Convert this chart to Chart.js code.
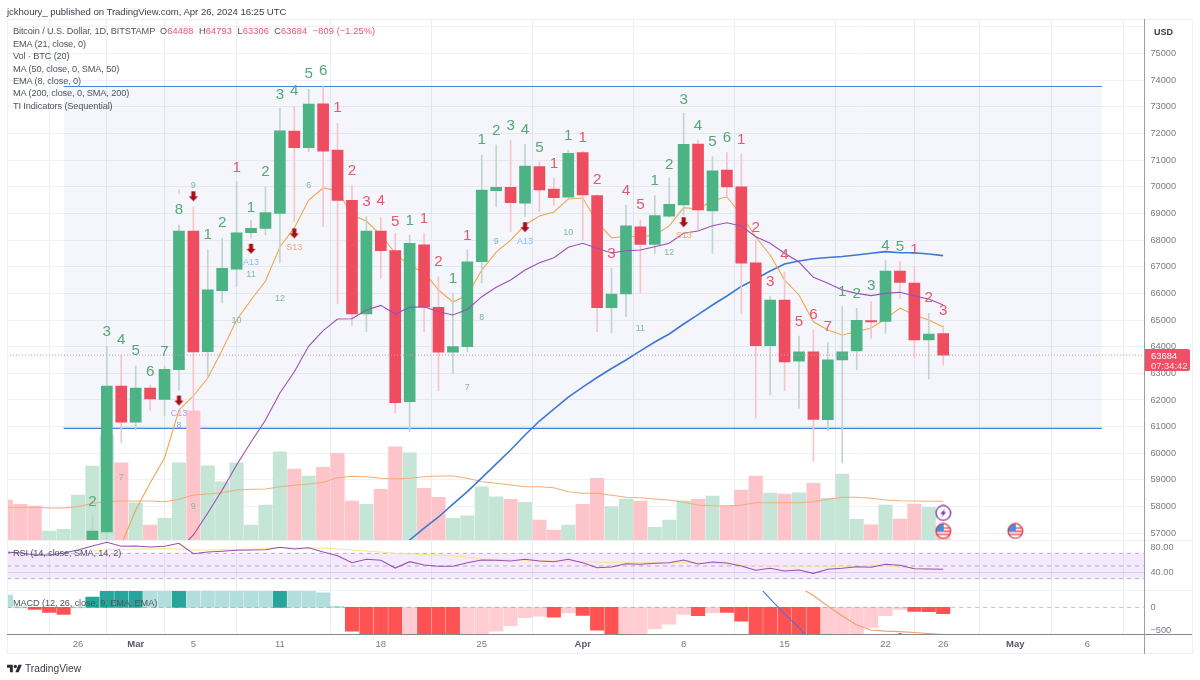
<!DOCTYPE html>
<html>
<head>
<meta charset="utf-8">
<title>BTCUSD</title>
<script src="https://cdn.jsdelivr.net/npm/chart.js@4"></script>
<style>
html,body{margin:0;padding:0;background:#fff;width:1200px;height:680px;overflow:hidden;font-family:"Liberation Sans",sans-serif;}
#c{position:absolute;left:0;top:0;}
.t{position:absolute;white-space:nowrap;color:#4f535d;font-size:9.2px;line-height:12px;letter-spacing:-0.12px;}
.r{color:#e5566b;}
.o{letter-spacing:0.14px;}
.ln{position:absolute;background:#f0f1f4;}
</style>
</head>
<body>
<canvas id="c" width="1200" height="680"></canvas>
<div class="ln" style="left:7px;top:19px;width:1185px;height:1px"></div>
<div class="ln" style="left:7px;top:653px;width:1185px;height:1px"></div>
<div class="ln" style="left:7px;top:19px;width:1px;height:635px"></div>
<div class="ln" style="left:1192px;top:19px;width:1px;height:635px"></div>
<div class="ln" style="left:7px;top:540px;width:1185px;height:1px"></div>
<div class="ln" style="left:7px;top:590px;width:1185px;height:1px"></div>
<div class="ln" style="left:7px;top:634px;width:1185px;height:1px;background:#85888f"></div>
<div class="ln" style="left:1144px;top:19px;width:1px;height:635px;background:#9c9ea3"></div>
<div class="t" style="left:7px;top:5.5px;font-size:9.6px;letter-spacing:-0.05px;color:#3a3e48;">jckhoury_ published on TradingView.com, Apr 26, 2024 16:25 UTC</div>
<div class="t" style="left:13px;top:25px;">Bitcoin / U.S. Dollar, 1D, BITSTAMP&nbsp;&nbsp;<span class="o">O<span class="r">64488</span>&nbsp;&nbsp;H<span class="r">64793</span>&nbsp;&nbsp;L<span class="r">63306</span>&nbsp;&nbsp;C<span class="r">63684</span>&nbsp;&nbsp;<span class="r">−809 (−1.25%)</span></span></div>
<div class="t" style="left:13px;top:37.5px;">EMA (21, close, 0)</div>
<div class="t" style="left:13px;top:50px;">Vol · BTC (20)</div>
<div class="t" style="left:13px;top:62.5px;">MA (50, close, 0, SMA, 50)</div>
<div class="t" style="left:13px;top:75px;">EMA (8, close, 0)</div>
<div class="t" style="left:13px;top:87px;">MA (200, close, 0, SMA, 200)</div>
<div class="t" style="left:13px;top:99.5px;">TI Indicators (Sequential)</div>
<div class="t" style="left:13px;top:547px;">RSI (14, close, SMA, 14, 2)</div>
<div class="t" style="left:13px;top:597px;">MACD (12, 26, close, 9, EMA, EMA)</div>
<div class="t" style="left:1154px;top:26px;font-weight:700;font-size:9px;letter-spacing:0;color:#3a3e48;">USD</div>
<div style="position:absolute;left:1145px;top:349px;width:45px;height:22px;background:#ef5067;border-radius:0 2px 2px 0;"></div>
<div class="t" style="left:1151px;top:349.5px;color:#fff;font-size:9.4px;letter-spacing:0;">63684</div>
<div class="t" style="left:1151px;top:359.5px;color:#fde3e6;font-size:9.4px;letter-spacing:0;">07:34:42</div>
<svg style="position:absolute;left:7px;top:662.5px" width="15" height="12" viewBox="0 0 36 28"><path d="M14 22H7V11H0V4h14v18zM28 22h-8l7.5-18h8L28 22z" fill="#2a2e39"/><circle cx="20" cy="8" r="4" fill="#2a2e39"/></svg>
<div class="t" style="left:25px;top:661.5px;font-size:10.2px;line-height:14px;letter-spacing:0;color:#3a3e48;">TradingView</div>

<script>
// x positions are day numbers: 0 = Feb 21, 2024
const tickDays   = [5,9,13,19,26,33,40,47,54,61,65,70,75];
const tickLabels = ['26','Mar','5','11','18','25','Apr','8','15','22','26','May','6'];
const monthTicks = ['Mar','Apr','May'];
const priceTicks = [57000,58000,59000,60000,61000,62000,63000,64000,65000,66000,67000,68000,69000,70000,71000,72000,73000,74000,75000,76000];
const rsiTicks   = [80,40];
const macdTicks  = [0,-500];

const firstCandleDay = 6;
const opens  = [54500,57050,62520,61170,62450,62025,63135,68340,63810,66100,66910,68280,68440,69000,72090,71465,73115,71380,69490,65225,68340,67610,61935,67825,65480,63790,64000,67190,69850,69980,69380,70755,69915,69605,71280,69665,65460,65975,68500,67840,68900,69315,71605,69090,70630,70000,67150,64040,65750,63460,63810,61265,63500,63840,64975,64950,66840,66390,64250,64488];
const highs  = [57650,64000,63690,63275,62560,63275,68565,69240,67630,68075,70190,68750,69990,72955,73005,73660,73755,72380,70065,68880,68865,68265,68190,68265,66625,66010,67630,71190,71570,71755,71590,70940,70330,71380,71340,69700,66950,69315,68750,69665,70330,72755,71755,71130,71280,71230,68000,65880,66800,64400,64630,64150,65500,65440,65690,67250,67190,67000,65250,64793];
const lows   = [54400,56700,60385,60875,61620,61400,62375,59000,62870,65640,66250,68080,68190,67140,68700,71315,68500,65600,64775,64560,66575,61510,60810,64560,62350,63010,63810,66390,69250,68315,68880,69065,69300,69590,68000,64560,64520,65125,66010,67500,68850,68940,68380,67500,69625,65225,61315,62190,62350,61690,59685,60850,59635,63125,64315,64500,65815,63565,62790,63306];
const closes = [57085,62520,61165,62450,62040,63150,68340,63800,66130,66940,68275,68440,69030,72100,71470,73105,71340,69490,65225,68340,67600,61900,67880,65480,63790,64000,67180,69880,69980,69400,70780,69880,69590,71255,69690,65460,65975,68530,67840,68915,69340,71590,69130,70600,69990,67130,64040,65750,63430,63810,61275,63510,63810,64990,64925,66840,66415,64250,64475,63684];

const firstVolUp = [0,0,0,1,1,1];
const volumes = [1600,1430,1360,360,430,1800,2960,4200,3090,1490,600,870,3090,5170,2970,2330,3090,600,1400,3530,2840,2560,2910,3470,1560,1430,2030,3730,3490,2070,1710,870,970,2130,1730,1630,1510,800,400,600,1430,2470,1330,1640,1560,510,800,1570,1630,1760,1370,2000,2560,1880,1840,1890,2270,1670,2640,830,610,1400,840,1440,1310,320];
const volMA = [1308,1308,1308,1280,1280,1332,1468,1532,1560,1560,1560,1532,1628,1800,1840,1892,2000,2028,2040,2132,2188,2240,2308,2492,2548,2532,2468,2440,2468,2532,2560,2560,2468,2332,2268,2200,2132,2132,2092,1932,1868,1868,1788,1708,1692,1640,1600,1508,1400,1372,1360,1400,1492,1492,1492,1492,1532,1628,1708,1708,1668,1600,1572,1560,1548,1548];

const emaFirstDay = 8;
const emaOrange = [56560,57870,58885,59825,61625,62150,62825,63875,65000,65750,66465,67740,68455,69500,69955,69860,68940,68715,68190,67515,67025,66800,66125,65675,65940,66875,67550,68000,68565,68900,69055,69540,69580,68680,68080,68155,68125,68190,68530,69215,69165,69475,69625,68940,68115,67440,66500,65940,64935,64625,64440,64560,64700,65040,65450,65190,65000,64740];
const maPurpleFirstDay = 12;
const maPurple = [56370,56935,57760,58620,59560,60425,61250,62260,63060,64025,64600,65040,65050,65375,65550,65225,65475,65500,65310,65190,65395,65875,66230,66500,66875,67150,67340,67730,67880,67690,67515,67600,67630,67750,67880,68255,68340,68540,68650,68530,68125,67880,67505,67175,66600,66380,66125,66000,65915,66000,66040,65900,65790,65565];
const maBlueFirstDay = 27;
const maBlue = [56295,56745,57195,57610,58095,58565,59075,59600,60125,60685,61210,61660,62110,62485,62845,63180,63500,63840,64175,64475,64850,65205,65565,65900,66260,66540,66840,67100,67215,67300,67345,67385,67440,67505,67565,67525,67525,67475,67415];

const rsi = [72.1,70.5,67.4,67.4,70.5,75.3,81.6,87.4,81.1,81.6,80,81.1,85.8,69.4,72.1,73.2,74.8,75.3,75.7,79.5,76.8,78.9,72.1,66.3,55.2,60.6,59,46.8,56.8,51.6,49.5,49.5,55.2,59.5,59,57.9,60.6,57.9,56.8,60.6,55.2,47.3,48.4,53.6,52.7,54.3,55.2,59.5,53.1,56.3,54.7,50,43.2,46.4,42.1,43.7,38.4,44.8,46.4,48.9,47.9,52.7,51.1,45.7,45.2,44.8];
const rsiMAFirstDay = 6;
const rsiMA = [73.7,76,76.4,76.8,76.8,77.6,76.8,75.3,75.3,75.7,76,76.4,77.6,79.2,78.4,78.4,78.4,76.8,75.3,73.7,72.1,69.7,68.9,68.2,67.4,65.8,64.2,61,60.3,59.5,59,58.4,57.9,57.4,56.8,56.3,55.2,55.2,55.2,55.2,55.2,55.2,54.7,54.3,53.1,51.6,51.1,50.5,50,50,50,50,48.9,48.9,51.6,50.5,48.4,46.4,44.8];
const rsiBandTop = 70, rsiMid = 50, rsiBandBottom = 30;

const macdHist = [260,0,-43,-106,-149,0,220,700,750,800,780,760,820,800,770,740,700,650,620,680,600,500,312,5,-504,-620,-760,-900,-800,-900,-1000,-1100,-950,-750,-504,-390,-220,-185,-206,-113,-170,-483,-640,-580,-553,-454,-355,-149,-177,-113,-106,-291,-700,-850,-1000,-1100,-1050,-950,-850,-750,-426,-177,-43,-85,-92,-135];
const macdStrong = [0,0,1,1,1,0,1,1,1,1,0,0,1,0,0,0,0,0,0,1,0,0,0,0,1,1,1,1,0,1,1,1,0,0,0,0,0,0,1,0,1,1,1,0,0,0,0,0,1,0,1,1,1,1,1,1,1,0,0,0,0,0,0,1,1,1];
const macdLineFirstDay = 52;
const macdLine = [519,179,-140,-428,-800,-1000,-1200,-1100,-900,-700,-555,-650,-700,-760];
const macdSignalFirstDay = 55;
const macdSignal = [434,253,30,-183,-374,-481,-506,-517,-534,-555,-577];

const channelDays = [4,76];
const channelTop = 73762, channelBottom = 60937;
const lastPrice = 63684;

const greenCounts = [[6,58170,'2'],[7,64550,'3'],[8,64250,'4'],[9,63840,'5'],[10,63050,'6'],[11,63810,'7'],[12,69130,'8'],[14,68190,'1'],[15,68630,'2'],[17,69215,'1'],[18,70565,'2'],[19,73445,'3'],[20,73605,'4'],[21,74230,'5'],[22,74345,'6'],[28,68725,'1'],[31,66565,'1'],[33,71755,'1'],[34,72105,'2'],[35,72290,'3'],[36,72130,'4'],[37,71480,'5'],[39,71915,'1'],[45,70225,'1'],[46,70815,'2'],[47,73280,'3'],[48,72280,'4'],[49,71690,'5'],[50,71820,'6'],[58,66065,'1'],[59,65975,'2'],[60,66275,'3'],[61,67775,'4'],[62,67750,'5']];
const redCounts = [[16,70715,'1'],[23,72955,'1'],[24,70600,'2'],[25,69440,'3'],[26,69465,'4'],[27,68690,'5'],[29,68790,'1'],[30,67190,'2'],[32,68155,'1'],[38,70880,'1'],[40,71840,'1'],[41,70255,'2'],[42,67475,'3'],[43,69850,'4'],[44,69315,'5'],[51,71780,'1'],[52,68465,'2'],[53,66440,'3'],[54,67465,'4'],[55,64935,'5'],[56,65190,'6'],[57,64750,'7'],[63,67625,'1'],[64,65840,'2'],[65,65340,'3']];
const smallCounts = [[8,59075,'7'],[12,61060,'8'],[13,58020,'9'],[16,64965,'10'],[17,66725,'11'],[19,65825,'12'],[13,70040,'9'],[21,70030,'6'],[32,62475,'7'],[33,65100,'8'],[34,67940,'9'],[39,68275,'10'],[44,64690,'11'],[46,67525,'12']];
const cTags = [[12,61475,'C13']];
const aTags = [[17,67150,'A13'],[36,67940,'A13']];
const sTags = [[20,67730,'S13'],[47,68165,'S13']];
const arrowSignals = [[12,61960],[13,69625],[17,67655],[20,68230],[36,68465],[47,68650]];
const faintSignals = [[12,69815]];
const boltEvents = [[65,57760]];
const flagEvents = [[65,57085],[70,57085]];

// ---- helpers ----
const series = (first, vals) => vals.map((y,i)=>({x:first+i,y}));
const pairs = list => list.map(p=>({x:p[0],y:p[1]}));
const xMin = 0.076, xMax = 78.96;
const span = v => [{x:xMin,y:v},{x:xMax,y:v}];

const candleUp = opens.map((o,i)=>closes[i]>=o);
const bodies = opens.map((o,i)=>({x:firstCandleDay+i,y:[o,closes[i]]}));
const wicks  = lows.map((l,i)=>({x:firstCandleDay+i,y:[l,highs[i]]}));
const volUp  = firstVolUp.concat(candleUp.map(u=>u?1:0));

const GREEN='#4cb385', RED='#ee4c5f', WICK_G='#c3d4cf', WICK_R='#f7c4cb';
const COUNT_G='#57a877', COUNT_R='#e4596d', SMALL='#86b89c';
const isMonth = v => monthTicks.includes(tickLabels[tickDays.indexOf(v)]);

function icon(draw){const c=document.createElement('canvas');c.width=17;c.height=17;draw(c.getContext('2d'));return c;}
const arrowIcon = icon(g=>{g.fillStyle='#a50d17';g.beginPath();g.moveTo(6.5,3);g.lineTo(10.5,3);g.lineTo(10.5,8);g.lineTo(13,8);g.lineTo(8.5,13);g.lineTo(4,8);g.lineTo(6.5,8);g.closePath();g.fill();});
const boltIcon = icon(g=>{g.beginPath();g.arc(8.5,8.5,7.3,0,7);g.fillStyle='#fff';g.fill();g.lineWidth=1.3;g.strokeStyle='#7b2fa8';g.stroke();g.fillStyle='#7b2fa8';g.beginPath();g.moveTo(10.5,3.8);g.lineTo(5.5,9.5);g.lineTo(8.2,9.5);g.lineTo(6.5,13.2);g.lineTo(11.5,7.5);g.lineTo(8.8,7.5);g.closePath();g.fill();});
const flagIcon = icon(g=>{g.save();g.beginPath();g.arc(8.5,8.5,7.3,0,7);g.fillStyle='#fff';g.fill();g.clip();
  g.fillStyle='#e8505f';g.fillRect(1,8,15,1.6);g.fillRect(1,11.2,15,1.4);g.fillRect(1,4.8,15,1.5);
  g.fillStyle='#3f8fe8';g.fillRect(1,1,8,8);g.restore();g.beginPath();g.arc(8.5,8.5,7.3,0,7);g.lineWidth=1.3;g.strokeStyle='#dc3545';g.stroke();});

const priceClip = {left:0,top:0,right:0,bottom:-94};
const volClip   = {left:0,top:0,right:0,bottom:-94};
const rsiClip   = {left:0,top:-522,right:0,bottom:-44};
const macdClip  = {left:0,top:-571.6,right:0,bottom:0};

const labelsPlugin = {
  id:'seqLabels',
  afterLayout(chart){
    // the overlaid indicator axes share the price axis column
    ['yRsi','yMacd'].forEach(id=>{const s=chart.scales[id];s.right=s.left+47.5;});
  },
  afterDatasetsDraw(chart){
    const g=chart.ctx, X=chart.scales.x, Y=chart.scales.yPrice;
    const put=(list,font,color)=>{
      g.font=font;g.fillStyle=color;g.textAlign='center';g.textBaseline='middle';
      list.forEach(p=>g.fillText(p[2],X.getPixelForValue(p[0]),Y.getPixelForValue(p[1])));
    };
    g.save();
    put(greenCounts,'15.2px "Liberation Sans"',COUNT_G);
    put(redCounts,'15.2px "Liberation Sans"',COUNT_R);
    put(smallCounts,'9px "Liberation Sans"',SMALL);
    put(cTags,'9px "Liberation Sans"','#c39be3');
    put(aTags,'9px "Liberation Sans"','#8dbcf0');
    put(sTags,'9px "Liberation Sans"','#f0a868');
    g.restore();
  }
};

const lineDs = (data,axis,color,width,order,clip,extra={}) => Object.assign({type:'line',data,yAxisID:axis,borderColor:color,borderWidth:width,pointRadius:0,tension:0,fill:false,order,clip},extra);
const barDs = (data,axis,thick,colors,order,clip) => ({type:'bar',data,yAxisID:axis,barThickness:thick,backgroundColor:colors,borderWidth:0,grouped:false,order,clip,minBarLength:1});
const markDs = (list,icn,order) => ({type:'line',data:pairs(list),yAxisID:'yPrice',showLine:false,pointStyle:icn,pointRadius:8,order,clip:false});

new Chart(document.getElementById('c'),{
  type:'bar',
  data:{datasets:[
    lineDs(span(lastPrice),'yPrice','#ea8f9a',1,1,{left:0,top:0,right:0,bottom:0},{borderDash:[1,2]}),
    markDs(arrowSignals,arrowIcon,2),
    {type:'line',data:pairs(faintSignals),yAxisID:'yPrice',showLine:false,pointStyle:'line',rotation:90,pointRadius:2.5,borderColor:'#f3a7b0',borderWidth:1,order:2},
    markDs(boltEvents,boltIcon,3),
    markDs(flagEvents,flagIcon,3),
    lineDs(series(maPurpleFirstDay,maPurple),'yPrice','#9c4fb5',1.1,5,priceClip),
    barDs(bodies,'yPrice',11,candleUp.map(u=>u?GREEN:RED),10,priceClip),
    barDs(wicks,'yPrice',1,candleUp.map(u=>u?WICK_G:WICK_R),11,priceClip),
    lineDs(series(emaFirstDay,emaOrange),'yPrice','#f0a64f',1.1,12,priceClip),
    lineDs(series(maBlueFirstDay,maBlue),'yPrice','#3f78d1',1.6,12,priceClip),
    lineDs(series(0,volMA),'yVol','#f3ac7d',1.1,20,volClip),
    barDs(series(0,volumes),'yVol',13.4,volUp.map(u=>u?'#c5e5d6':'#fdc4c9'),25,volClip),
    lineDs(series(0,rsi),'yRsi','#9c4fb5',1.1,30,rsiClip),
    lineDs(series(rsiMAFirstDay,rsiMA),'yRsi','#f6e58d',1.1,31,rsiClip),
    lineDs(span(rsiMid),'yRsi','rgba(120,110,140,.5)',1,32,rsiClip,{borderDash:[4,4]}),
    lineDs(span(rsiBandTop),'yRsi','rgba(120,110,140,.5)',1,33,rsiClip,{borderDash:[4,4],fill:'+1',backgroundColor:'rgba(170,80,240,.12)'}),
    lineDs(span(rsiBandBottom),'yRsi','rgba(120,110,140,.5)',1,33,rsiClip,{borderDash:[4,4]}),
    lineDs(series(macdLineFirstDay,macdLine),'yMacd','#3f78d1',1.1,40,macdClip),
    lineDs(series(macdSignalFirstDay,macdSignal),'yMacd','#f3a06a',1.2,40,macdClip),
    lineDs(span(0),'yMacd','rgba(120,123,134,.45)',1,42,macdClip,{borderDash:[4,4]}),
    barDs(series(0,macdHist),'yMacd',13.4,macdHist.map((v,i)=>v>=0?(macdStrong[i]?'#26a69a':'#b2dfdb'):(macdStrong[i]?'#ff5252':'#ffcdd2')),44,macdClip),
    lineDs([{x:channelDays[0],y:channelTop},{x:channelDays[1],y:channelTop}],'yPrice','#4a7fd3',1.2,60,priceClip,{fill:'+1',backgroundColor:'rgba(60,100,200,.06)'}),
    lineDs([{x:channelDays[0],y:channelBottom},{x:channelDays[1],y:channelBottom}],'yPrice','#4a7fd3',1.2,60,priceClip)
  ]},
  options:{
    responsive:false,animation:false,devicePixelRatio:1,
    layout:{autoPadding:false,padding:{left:7,top:19,right:8,bottom:26}},
    plugins:{legend:{display:false},tooltip:{enabled:false},title:{display:false}},
    events:[],
    scales:{
      x:{type:'linear',position:'bottom',min:xMin,max:xMax,offset:false,
        afterBuildTicks:s=>{s.ticks=tickDays.map(v=>({value:v}));},
        afterFit:s=>{s.height=20;},
        border:{display:false},
        grid:{color:'#e9eef6',drawTicks:false},
        ticks:{autoSkip:false,maxRotation:0,padding:5,
          callback:v=>tickLabels[tickDays.indexOf(v)],
          color:c=>c.tick&&isMonth(c.tick.value)?'#555a66':'#787b86',
          font:c=>({family:'Liberation Sans',size:9.5,weight:c.tick&&isMonth(c.tick.value)?'700':'400'})}},
      yPrice:{axis:'y',type:'linear',position:'right',weight:1,min:53219.6,max:76294.4,
        afterBuildTicks:s=>{s.ticks=priceTicks.map(v=>({value:v}));},
        afterFit:s=>{s.width=47.5;},
        border:{display:false},
        grid:{color:'#eef1f6',drawTicks:false},
        ticks:{padding:6,autoSkip:false,color:'#787b86',font:{family:'Liberation Sans',size:9.2},callback:v=>v===76000?'':String(v)}},
      yRsi:{axis:'y',type:'linear',position:'right',weight:-2,min:-57.44,max:914.1,
        afterBuildTicks:s=>{s.ticks=rsiTicks.map(v=>({value:v}));},
        afterFit:s=>{s.width=0;},
        border:{display:false},
        grid:{color:c=>c.tick&&c.tick.value===40?'rgba(160,120,200,.25)':'rgba(0,0,0,0)',drawTicks:false},
        ticks:{padding:6,autoSkip:false,color:'#787b86',font:{family:'Liberation Sans',size:9.2},callback:v=>v.toFixed(2)}},
      yMacd:{axis:'y',type:'linear',position:'right',weight:-3,min:-566,max:12519,
        afterBuildTicks:s=>{s.ticks=macdTicks.map(v=>({value:v}));},
        afterFit:s=>{s.width=0;},
        border:{display:false},
        grid:{display:false,drawTicks:false},
        ticks:{padding:6,autoSkip:false,color:'#787b86',font:{family:'Liberation Sans',size:9.2},callback:v=>v<0?'−'+Math.abs(v):String(v)}},
      yVol:{axis:'y',type:'linear',display:false,min:-3760,max:20840}
    }
  },
  plugins:[labelsPlugin]
});
</script>
</body>
</html>
